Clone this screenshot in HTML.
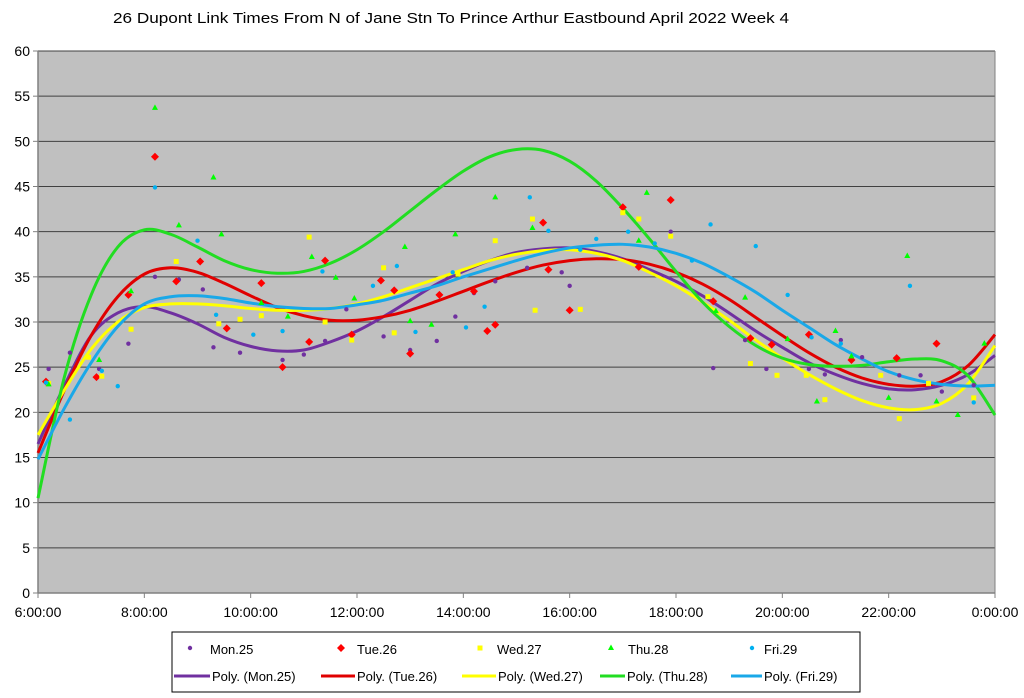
<!DOCTYPE html>
<html><head><meta charset="utf-8">
<style>
body{margin:0;background:#fff;}
svg{display:block;font-family:"Liberation Sans",sans-serif;}
</style></head>
<body>
<svg id="chart" width="1024" height="698">
<text x="451" y="23" text-anchor="middle" font-size="15" textLength="676" lengthAdjust="spacingAndGlyphs">26 Dupont Link Times From N of Jane Stn To Prince Arthur Eastbound April 2022  Week 4</text>
<rect x="38" y="51" width="957" height="542" fill="#c0c0c0"/>
<g id="grid"></g>
<g id="axes"></g>
<g id="trends"></g>
<g id="points"></g>
<g id="legend">
<rect x="172" y="632" width="688" height="60" fill="#fff" stroke="#000" stroke-width="1"/>
</g>
</svg>
<script>
const yTicks=[0,5,10,15,20,25,30,35,40,45,50,55,60];
const xTickHours=[6,8,10,12,14,16,18,20,22,24];
const xTickLabels=["6:00:00","8:00:00","10:00:00","12:00:00","14:00:00","16:00:00","18:00:00","20:00:00","22:00:00","0:00:00"];
const seriesNames=["Mon.25","Tue.26","Wed.27","Thu.28","Fri.29"];
const monPts=[[6.2,24.8],[6.6,26.6],[7.15,24.8],[7.7,27.6],[8.2,35],[8.65,34.7],[9.1,33.6],[9.3,27.2],[9.8,26.6],[10.6,25.8],[11.0,26.4],[11.4,27.9],[11.8,31.4],[12.5,28.4],[13.0,26.9],[13.5,27.9],[13.85,30.6],[14.2,33.2],[14.6,34.5],[15.2,36],[15.85,35.5],[16.0,34.0],[17.3,36.3],[17.9,40],[18.7,24.9],[19.3,28],[19.7,24.8],[20.5,24.8],[20.8,24.2],[21.1,28],[21.5,26.1],[22.2,24.1],[22.6,24.1],[23,22.3],[23.6,23]];
const tuePts=[[6.15,23.4],[7.1,23.9],[7.7,33],[8.2,48.3],[8.6,34.5],[9.05,36.7],[9.55,29.3],[10.2,34.3],[10.6,25],[11.1,27.8],[11.4,36.8],[11.9,28.6],[12.45,34.6],[12.7,33.5],[13.0,26.5],[13.55,33],[14.2,33.4],[14.45,29],[14.6,29.7],[15.5,41],[15.6,35.8],[16.0,31.3],[17.0,42.7],[17.3,36.1],[17.9,43.5],[18.7,32.3],[19.4,28.2],[19.8,27.5],[20.5,28.6],[21.3,25.8],[22.15,26],[22.9,27.6]];
const wedPts=[[6.2,23.2],[6.95,26.1],[7.2,24],[7.75,29.2],[8.6,36.7],[9.4,29.8],[9.8,30.3],[10.2,30.7],[11.1,39.4],[11.4,30],[11.9,28],[12.5,36],[12.7,28.8],[13.9,35.3],[14.6,39],[15.3,41.4],[15.35,31.3],[16.2,31.4],[17.0,42.1],[17.3,41.4],[17.9,39.5],[18.6,32.8],[19.4,25.4],[19.9,24.1],[20.45,24.1],[20.8,21.4],[21.85,24.1],[22.2,19.3],[22.75,23.2],[23.6,21.6]];
const thuPts=[[6.2,23.1],[7.15,25.8],[7.75,33.4],[8.2,53.7],[8.65,40.7],[9.3,46],[9.45,39.7],[10.2,32.1],[10.7,30.6],[11.15,37.2],[11.6,34.9],[11.95,32.6],[12.9,38.3],[13.0,30.1],[13.4,29.7],[13.85,39.7],[14.6,43.8],[15.3,40.4],[17.3,39],[17.45,44.3],[18.75,31.2],[19.3,32.7],[20.1,28.1],[20.65,21.2],[21.0,29],[21.3,26.2],[22.0,21.6],[22.35,37.3],[22.9,21.2],[23.3,19.7],[23.8,27.6]];
const friPts=[[6.15,23.3],[6.6,19.2],[7.2,24.6],[7.5,22.9],[8.2,44.9],[9.0,39],[9.35,30.8],[10.05,28.6],[10.6,29],[11.35,35.6],[12.3,34],[12.75,36.2],[13.1,28.9],[13.8,35.5],[14.05,29.4],[14.4,31.7],[15.25,43.8],[15.6,40.1],[16.2,38],[16.5,39.2],[17.1,40],[17.6,38.7],[18.3,36.8],[18.65,40.8],[19.5,38.4],[20.1,33],[20.55,28.3],[21.1,27.6],[22.4,34],[23.6,21.1]];
const trendHours=[6,6.5,7,7.5,8,8.5,9,9.5,10,10.5,11,11.5,12,12.5,13,13.5,14,14.5,15,15.5,16,16.5,17,17.5,18,18.5,19,19.5,20,20.5,21,21.5,22,22.5,23,23.5,24];
const monTrend=[16.5,23,28.5,31,31.7,31,29.8,28.3,27.3,26.8,26.9,27.8,29,30.6,32.4,34.2,35.6,36.8,37.7,38.1,38.2,37.8,37,35.8,34.5,32.9,31,29,27.2,25.5,24.2,23.2,22.6,22.5,23,24.2,26.3];
const tueTrend=[15.5,22.5,28.5,32.8,35.3,36,35.5,34.3,32.9,31.6,30.7,30.2,30.2,30.6,31.3,32.3,33.4,34.5,35.5,36.3,36.8,37,36.9,36.4,35.5,34.2,32.5,30.5,28.5,26.6,25,23.8,23.1,22.9,23.4,25.2,28.6];
const wedTrend=[17.5,22.5,27,30,31.6,32,32,31.8,31.5,31.3,31.3,31.5,32,32.8,33.8,34.8,35.8,36.8,37.5,37.9,38,37.6,36.8,35.5,34,32.2,30.2,28,26,24.2,22.6,21.3,20.5,20.3,21,23.2,27.4];
const thuTrend=[10.5,24,33,38.3,40.2,39.7,38.3,36.8,35.8,35.4,35.6,36.5,38,40,42.3,44.6,46.7,48.3,49.1,49,47.8,45.6,42.6,39.2,35.6,32.2,29.5,27.4,26,25.3,25.1,25.2,25.6,25.9,25.7,24,19.7];
const friTrend=[14.8,20.5,25.5,29.5,32,32.8,32.9,32.6,32.1,31.7,31.5,31.5,31.9,32.4,33.2,34,35,35.9,36.8,37.6,38.2,38.5,38.6,38.3,37.6,36.5,35,33.3,31.3,29.4,27.5,25.9,24.5,23.6,23.1,22.9,23];

const NS="http://www.w3.org/2000/svg";
const X=h=>38+(h-6)*(957/18);
const Y=v=>593-v*(542/60);
function mk(tag,attrs,parent){const e=document.createElementNS(NS,tag);for(const k in attrs)e.setAttribute(k,attrs[k]);parent.appendChild(e);return e;}
function smooth(P){
 let d='M'+P[0][0]+','+P[0][1];
 for(let i=0;i<P.length-1;i++){
  const p0=P[Math.max(0,i-1)],p1=P[i],p2=P[i+1],p3=P[Math.min(P.length-1,i+2)];
  const c1x=p1[0]+(p2[0]-p0[0])/6,c1y=p1[1]+(p2[1]-p0[1])/6;
  const c2x=p2[0]-(p3[0]-p1[0])/6,c2y=p2[1]-(p3[1]-p1[1])/6;
  d+=` C${c1x},${c1y} ${c2x},${c2y} ${p2[0]},${p2[1]}`;
 }
 return d;
}
const grid=document.getElementById('grid'),axes=document.getElementById('axes'),trends=document.getElementById('trends'),pts=document.getElementById('points'),leg=document.getElementById('legend');
yTicks.forEach(v=>{
 if(v>0){const l=mk('line',{x1:38,x2:995,y1:Y(v),y2:Y(v),stroke:'#404040','stroke-width':1},grid);
 
 }
 const t=mk('text',{x:30,y:Y(v)+5,'text-anchor':'end','font-size':14},axes);t.textContent=v;
 
 
 mk('line',{x1:33,x2:38,y1:Y(v),y2:Y(v),stroke:'#808080'},axes);
});
mk('line',{x1:38,x2:38,y1:51,y2:593,stroke:'#808080','stroke-width':1.5},axes);
mk('line',{x1:38,x2:995,y1:593,y2:593,stroke:'#808080','stroke-width':1.5},axes);
mk('line',{x1:995,x2:995,y1:51,y2:593,stroke:'#808080','stroke-width':1},axes);
xTickHours.forEach((h,i)=>{
 mk('line',{x1:X(h),x2:X(h),y1:593,y2:598,stroke:'#808080'},axes);
 const t=mk('text',{x:X(h),y:617,'text-anchor':'middle','font-size':14},axes);t.textContent=xTickLabels[i];
 
 
});
const colors=['#7030a0','#ff0000','#ffff00','#00ff00','#00b0f0'];
const trendColors=['#7030a0','#e00000','#ffff00','#22dd22','#1aa8e8'];
const ptData=[monPts,tuePts,wedPts,thuPts,friPts];
const trendData=[monTrend,tueTrend,wedTrend,thuTrend,friTrend];
function marker(i,x,y,parent){
 let e;
 if(i===0||i===4) e=mk('circle',{cx:x,cy:y,r:2.2,fill:colors[i]},parent);
 else if(i===1) e=mk('polygon',{points:`${x},${y-4} ${x+4},${y} ${x},${y+4} ${x-4},${y}`,fill:colors[i]},parent);
 else if(i===2) e=mk('rect',{x:x-2.5,y:y-2.5,width:5,height:5,fill:colors[i]},parent);
 else e=mk('polygon',{points:`${x},${y-3.5} ${x+3},${y+2} ${x-3},${y+2}`,fill:colors[i]},parent);
 return e;
}
trendData.forEach((arr,i)=>{
 const P=arr.map((v,j)=>[X(trendHours[j]),Y(v)]);
 const p=mk('path',{d:smooth(P),fill:'none',stroke:trendColors[i],'stroke-width':3,'stroke-linejoin':'round'},trends);
 
 
});
ptData.forEach((arr,i)=>{
 arr.forEach(d=>{const m=marker(i,X(d[0]),Y(d[1]),pts);
 
 });
});
const mx=[190,341,480,611,752],tx=[210,357,497,628,764];
const lx1=[174,321,462,600,731],lx2=[210,355,496,625,762];
seriesNames.forEach((n,i)=>{
 marker(i,mx[i],648,leg);
 const t=mk('text',{x:tx[i],y:654,'font-size':13},leg);t.textContent=n;
 
 
 mk('line',{x1:lx1[i],x2:lx2[i],y1:676,y2:676,stroke:trendColors[i],'stroke-width':3},leg);
 const t2=mk('text',{x:lx2[i]+2,y:681,'font-size':13},leg);t2.textContent='Poly. ('+n+')';
 
 
});
</script>
</body></html>
